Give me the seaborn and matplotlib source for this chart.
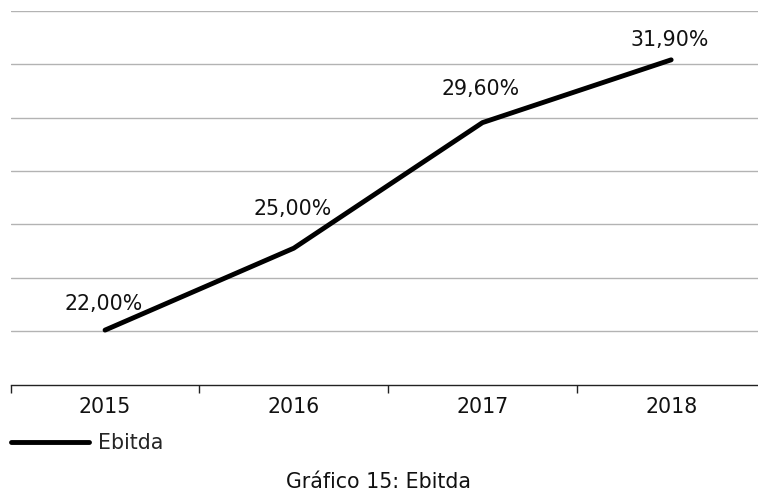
import numpy as np
import pandas as pd
import matplotlib
matplotlib.use("Agg")
import matplotlib.pyplot as plt
from matplotlib.ticker import FixedLocator, NullFormatter
import seaborn as sns

# Ebitda margin per year (%)
years = ["2015", "2016", "2017", "2018"]
ebitda = [22.0, 25.0, 29.6, 31.9]
series_name = "Ebitda"
caption = "Gráfico 15: Ebitda"

# vertical value range of the plot area and number of horizontal gridlines
y_range = (20.0, 33.7)
n_gridlines = 8

# label offsets above each point (points)
label_offsets = [19, 28, 24, 14]

sns.set_style("white")
plt.rcParams["font.family"] = ["DejaVu Sans"]
FS = 14.8

df = pd.DataFrame({"Ano": years, series_name: ebitda})

fig = plt.figure(figsize=(7.58, 4.92), dpi=100)
ax = fig.add_axes([10.7 / 758, 1 - 384.7 / 492, 754.8 / 758, 374.0 / 492])

for gy in np.linspace(*y_range, n_gridlines)[1:]:
    ax.axhline(gy, color="#b3b3b3", lw=1.0, zorder=0)

sns.lineplot(data=df, x="Ano", y=series_name, ax=ax, color="black",
             lw=3.5, solid_capstyle="round", solid_joinstyle="round",
             label=series_name, legend=False)

for i, (yr, v) in enumerate(zip(years, ebitda)):
    ax.annotate(f"{v:.2f}%".replace(".", ","), (i, v),
                xytext=(-1, label_offsets[i]), textcoords="offset points",
                ha="center", va="center", fontsize=FS, color="#111111")

ax.set_xlim(-0.5, len(years) - 0.5)
ax.set_ylim(*y_range)
ax.set_yticks([])
ax.set_xlabel("")
ax.set_ylabel("")
for s in ["top", "right", "left"]:
    ax.spines[s].set_visible(False)
ax.spines["bottom"].set_color("#222222")
ax.spines["bottom"].set_linewidth(1.0)

ax.xaxis.set_minor_locator(FixedLocator(np.arange(len(years) + 1) - 0.5))
ax.xaxis.set_minor_formatter(NullFormatter())
ax.tick_params(axis="x", which="major", length=0, pad=9, labelsize=FS,
               labelcolor="#111111")
ax.tick_params(axis="x", which="minor", length=5.5, width=1.0,
               color="#222222", direction="out", bottom=True)

handles, labels = ax.get_legend_handles_labels()
fig.legend(handles, labels, loc="center left",
           bbox_to_anchor=(10.5 / 758, 1 - 443 / 492), frameon=False,
           fontsize=FS, handlelength=3.8, handletextpad=0.45,
           borderpad=0, borderaxespad=0)

fig.text(0.5, 1 - 482 / 492, caption, ha="center", va="center",
         fontsize=FS, color="#111111")

fig.savefig("out.png", dpi=100)
